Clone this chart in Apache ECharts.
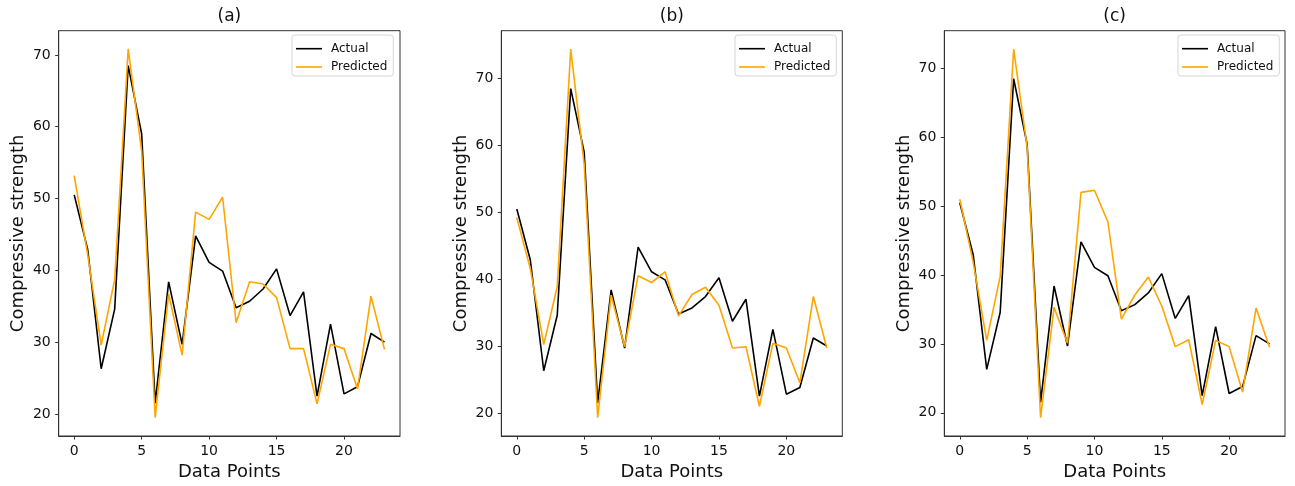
<!DOCTYPE html>
<html>
<head>
<meta charset="utf-8">
<script src="https://cdn.jsdelivr.net/npm/echarts@6/dist/echarts.min.js"></script>
<style>
  html, body { margin: 0; padding: 0; background: #fff; }
  #chart { width: 1295px; height: 486px; }
</style>
</head>
<body>
<div id="chart"></div>
<script>
// Sample index along the x axis
const dataPoints = [0, 1, 2, 3, 4, 5, 6, 7, 8, 9, 10, 11, 12, 13, 14, 15, 16, 17, 18, 19, 20, 21, 22, 23];

// Measured compressive strength (same test set in every panel)
const actual = [50.5, 42.9, 26.3, 34.6, 68.5, 59.0, 21.5, 38.4, 29.7, 44.8, 41.1, 39.9,
                34.8, 35.7, 37.4, 40.2, 33.7, 37.0, 22.5, 32.5, 22.8, 23.8, 31.2, 30.0];

// Model predictions for panels (a), (b), (c)
const predictedA = [53.2, 42.2, 29.6, 38.7, 70.8, 56.6, 19.5, 36.7, 28.2, 48.1, 47.1, 50.2,
                    32.7, 38.4, 38.1, 36.2, 29.1, 29.1, 21.4, 29.7, 29.1, 23.5, 36.4, 29.0];
const predictedB = [49.2, 41.6, 30.2, 38.9, 74.4, 57.2, 19.3, 37.6, 29.9, 40.5, 39.5, 41.1,
                    34.5, 37.7, 38.8, 36.1, 29.7, 29.9, 21.0, 30.4, 29.7, 24.5, 37.4, 29.7];
const predictedC = [51.0, 41.8, 30.5, 39.8, 72.8, 58.6, 19.3, 35.3, 30.1, 52.0, 52.3, 47.7,
                    33.6, 37.1, 39.7, 35.5, 29.6, 30.6, 21.2, 30.5, 29.6, 23.0, 35.2, 29.5];

const panelTitles = ['(a)', '(b)', '(c)'];
const xTicks = [0, 5, 10, 15, 20];
const yTicks = [20, 30, 40, 50, 60, 70];
const seriesNames = ['Actual', 'Predicted'];

const predictions = [predictedA, predictedB, predictedC];
const FONT = 'DejaVu Sans';
const INK = '#111';
const FRAME = '#333';

// Plot-area placement for the three panels
const panels = [
  { left: 58.7,  width: 341.3, legendLeft: 292 },
  { left: 501.3, width: 341.0, legendLeft: 735 },
  { left: 944.3, width: 340.7, legendLeft: 1178 }
];
const TOP = 30.7, HEIGHT = 405.3;

const pairs = (vals) => dataPoints.map((x, i) => [x, vals[i]]);
// 5% padding around the data extent on both axes
const padMin = (v) => v.min - 0.05 * (v.max - v.min);
const padMax = (v) => v.max + 0.05 * (v.max - v.min);

const option = {
  backgroundColor: '#fff',
  animation: false,
  title: panels.map((p, i) => ({
    text: panelTitles[i],
    left: p.left + p.width / 2,
    textAlign: 'center',
    top: 8,
    padding: 0,
    textStyle: { fontFamily: FONT, fontSize: 17, fontWeight: 'normal', color: INK }
  })),
  legend: panels.map((p) => ({
    data: seriesNames,
    left: p.legendLeft,
    top: 35,
    orient: 'vertical',
    icon: 'rect',
    itemWidth: 26,
    itemHeight: 1.6,
    itemGap: 6.3,
    padding: [7.7, 6, 3, 4],
    backgroundColor: '#fff',
    borderColor: '#d6d6d6',
    borderWidth: 1,
    borderRadius: 3,
    selectedMode: false,
    textStyle: { fontFamily: FONT, fontSize: 12, color: INK, padding: [0, 0, 0, 4] }
  })),
  grid: panels.map((p) => ({
    left: p.left, top: TOP, width: p.width, height: HEIGHT,
    show: true, borderColor: FRAME, borderWidth: 1, backgroundColor: 'transparent'
  })),
  xAxis: panels.map((p, i) => ({
    type: 'value',
    gridIndex: i,
    min: (v) => padMin(v),
    max: (v) => padMax(v),
    name: 'Data Points',
    nameLocation: 'middle',
    nameGap: 27,
    nameTextStyle: { fontFamily: FONT, fontSize: 18, color: INK },
    splitLine: { show: false },
    axisLine: { show: true, onZero: false, lineStyle: { color: FRAME, width: 1 } },
    axisTick: { show: true, inside: false, length: 3.5, customValues: xTicks, lineStyle: { color: FRAME } },
    axisLabel: { customValues: xTicks, margin: 8, fontFamily: FONT, fontSize: 14, color: INK }
  })),
  yAxis: panels.map((p, i) => ({
    type: 'value',
    gridIndex: i,
    min: (v) => padMin(v),
    max: (v) => padMax(v),
    name: 'Compressive strength',
    nameLocation: 'middle',
    nameGap: 31,
    nameTextStyle: { fontFamily: FONT, fontSize: 18, color: INK },
    splitLine: { show: false },
    axisLine: { show: true, onZero: false, lineStyle: { color: FRAME, width: 1 } },
    axisTick: { show: true, inside: false, length: 3.5, customValues: yTicks, lineStyle: { color: FRAME } },
    axisLabel: { customValues: yTicks, margin: 8, fontFamily: FONT, fontSize: 14, color: INK }
  })),
  series: []
};

predictions.forEach((pred, i) => {
  option.series.push({
    name: seriesNames[0], type: 'line', xAxisIndex: i, yAxisIndex: i,
    data: pairs(actual), symbol: 'none', silent: true,
    itemStyle: { color: '#000' }, lineStyle: { color: '#000', width: 1.6 }, z: 2
  });
  option.series.push({
    name: seriesNames[1], type: 'line', xAxisIndex: i, yAxisIndex: i,
    data: pairs(pred), symbol: 'none', silent: true,
    itemStyle: { color: '#FFA500' }, lineStyle: { color: '#FFA500', width: 1.6 }, z: 3
  });
});

const chart = echarts.init(document.getElementById('chart'), null, { renderer: 'canvas' });
chart.setOption(option);
</script>
</body>
</html>
